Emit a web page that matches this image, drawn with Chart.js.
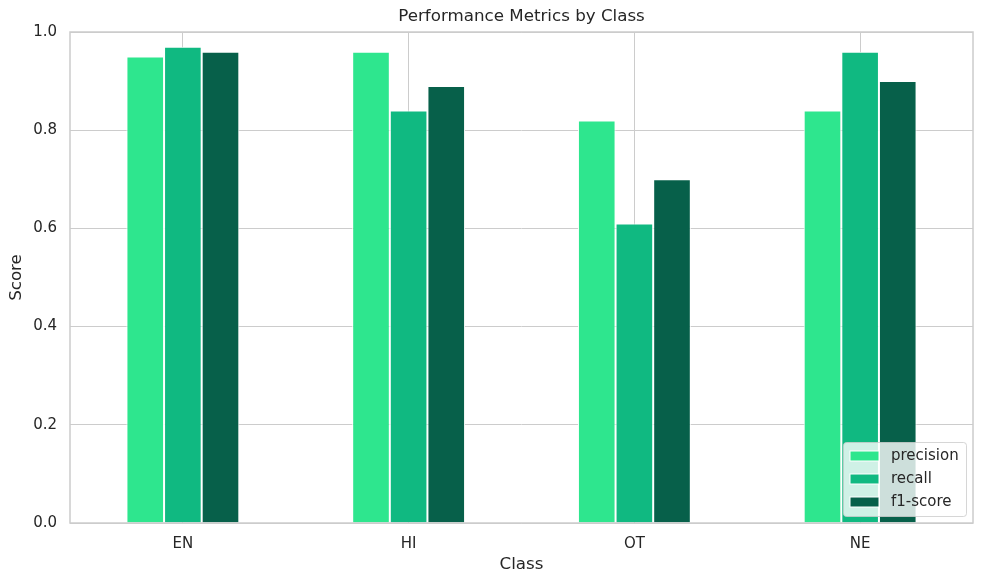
<!DOCTYPE html>
<html>
<head>
<meta charset="utf-8">
<script src="https://cdn.jsdelivr.net/npm/chart.js@4.4.1/dist/chart.umd.min.js"></script>
<style>
  html, body { margin: 0; padding: 0; background: #fff; }
  #wrap { width: 984px; height: 584px; }
</style>
</head>
<body>
<div id="wrap"><canvas id="chart1" width="984" height="584"></canvas></div>
<script>
// data
var classes = ['EN', 'HI', 'OT', 'NE'];
var precision = [0.95, 0.96, 0.82, 0.84];
var recall = [0.97, 0.84, 0.61, 0.96];
var f1score = [0.96, 0.89, 0.70, 0.90];
var yTicks = [0, 0.2, 0.4, 0.6, 0.8, 1.0];

var gridColor = '#cccccc';
var textColor = '#262626';
Chart.defaults.font.family = 'DejaVu Sans';

// box around plot area (seaborn whitegrid spines)
var frame = {
  id: 'frame',
  afterDatasetsDraw: function(chart) {
    var a = chart.chartArea, c = chart.ctx;
    c.save();
    c.strokeStyle = gridColor;
    c.lineWidth = 1.5;
    c.strokeRect(a.left, a.top, a.right - a.left, a.bottom - a.top);
    c.restore();
  }
};

// legend inside the plot, lower right
var innerLegend = {
  id: 'innerLegend',
  afterDatasetsDraw: function(chart) {
    var a = chart.chartArea, c = chart.ctx;
    var w = 123, h = 74, x = a.right - w - 7, y = a.bottom - h - 7;
    c.save();
    c.fillStyle = 'rgba(255,255,255,0.8)';
    c.strokeStyle = 'rgba(204,204,204,0.8)';
    c.lineWidth = 1;
    c.beginPath();
    c.roundRect(x + 0.5, y + 0.5, w, h, 3);
    c.fill();
    c.stroke();
    c.font = '15px "DejaVu Sans"';
    c.textBaseline = 'middle';
    chart.data.datasets.forEach(function(ds, i) {
      var cy = y + 14 + i * 23;
      c.fillStyle = ds.backgroundColor;
      c.fillRect(x + 7, cy - 5, 29, 10);
      c.strokeStyle = '#fff';
      c.strokeRect(x + 7, cy - 5, 29, 10);
      c.fillStyle = textColor;
      c.fillText(ds.label, x + 48, cy);
    });
    c.restore();
  }
};

var ctx = document.getElementById('chart1').getContext('2d');

var myChart = new Chart(ctx, {
  type: 'bar',
  data: {
    labels: classes,
    datasets: [{
      label: 'precision',
      data: precision,
      backgroundColor: '#2ee68e',
      borderColor: '#ffffff',
      borderWidth: 1
    }, {
      label: 'recall',
      data: recall,
      backgroundColor: '#10b981',
      borderColor: '#ffffff',
      borderWidth: 1
    }, {
      label: 'f1-score',
      data: f1score,
      backgroundColor: '#07604a',
      borderColor: '#ffffff',
      borderWidth: 1
    }]
  },
  options: {
    responsive: false,
    animation: false,
    barPercentage: 1.0,
    categoryPercentage: 0.5,
    layout: { padding: { left: 0, right: 11, top: 0, bottom: 0 } },
    plugins: {
      legend: { display: false },
      tooltip: { enabled: false }
    },
    scales: {
      // top axis only carries the title, so it is centred over the plot area
      top: {
        type: 'category',
        position: 'top',
        afterFit: function(s) { s.height = 32; },
        ticks: { display: false },
        grid: { display: false, drawTicks: false },
        border: { display: false },
        title: {
          display: true,
          text: 'Performance Metrics by Class',
          color: textColor,
          font: { size: 16.7 },
          padding: { top: 7, bottom: 4 }
        }
      },
      x: {
        afterFit: function(s) { s.height = 61; },
        ticks: { color: textColor, font: { size: 15 }, padding: 12 },
        grid: { display: true, offset: false, color: gridColor, drawTicks: false },
        border: { display: false },
        title: { display: true, text: 'Class', color: textColor, font: { size: 16.7 }, padding: { top: 4, bottom: 9 } }
      },
      y: {
        min: 0,
        max: 1,
        afterFit: function(s) { s.width = 70; },
        afterBuildTicks: function(s) { s.ticks = yTicks.map(function(v) { return { value: v }; }); },
        ticks: {
          color: textColor,
          font: { size: 15 },
          padding: 13,
          callback: function(v) { return Number(v).toFixed(1); }
        },
        grid: { display: true, color: gridColor, drawTicks: false },
        border: { display: false },
        title: { display: true, text: 'Score', color: textColor, font: { size: 16.7 }, padding: { top: 7, bottom: 4 } }
      }
    }
  },
  plugins: [frame, innerLegend]
});
</script>
</body>
</html>
